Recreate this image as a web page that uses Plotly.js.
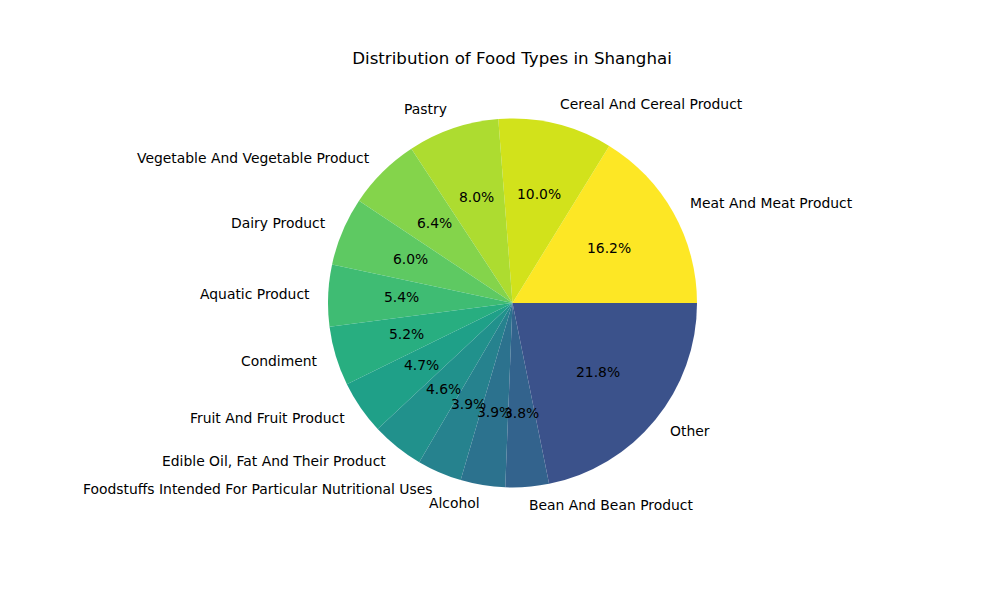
<!DOCTYPE html>
<html>
<head>
<meta charset="utf-8">
<script src="https://cdn.plot.ly/plotly-3.0.1.min.js"></script>
<style>html,body{margin:0;padding:0;background:#fff;}#chart{width:1000px;height:600px;}</style>
</head>
<body>
<div id="chart"></div>
<script>
const categories = [
  "Meat And Meat Product",
  "Cereal And Cereal Product",
  "Pastry",
  "Vegetable And Vegetable Product",
  "Dairy Product",
  "Aquatic Product",
  "Condiment",
  "Fruit And Fruit Product",
  "Edible Oil, Fat And Their Product",
  "Foodstuffs Intended For Particular Nutritional Uses",
  "Alcohol",
  "Bean And Bean Product",
  "Other"
];
const shares = [16.2, 10.0, 8.0, 6.4, 6.0, 5.4, 5.2, 4.7, 4.6, 3.9, 3.9, 3.8, 21.8];
const sliceColors = [
  "#fde725", "#d2e21b", "#addc30", "#84d44b", "#5ec962", "#3fbc73", "#28ae80",
  "#1fa088", "#21918c", "#26828e", "#2c728e", "#33638d", "#3b528b"
];
const chartTitle = "Distribution of Food Types in Shanghai";

const FONT = "DejaVu Sans, sans-serif";
const total = shares.reduce((a, b) => a + b, 0);

// Annotations positioned from the data (matplotlib-style: labels at 1.1 r, pct at 0.6 r)
const annotations = [];
let cum = 0;
shares.forEach((v, i) => {
  const mid = (cum + v / 2) / total * 2 * Math.PI;
  cum += v;
  const cx = Math.cos(mid), cy = Math.sin(mid);
  const side = cx > 1e-9 ? "left" : (cx < -1e-9 ? "right" : "center");
  annotations.push({
    xref: "paper", yref: "paper",
    x: 0.5 + 0.5 * 1.1 * cx, y: 0.5 + 0.5 * 1.1 * cy,
    text: categories[i], showarrow: false,
    xanchor: side, yanchor: "middle",
    xshift: side === "left" ? -2 : (side === "right" ? 2 : 0),
    yshift: 1,
    font: {family: FONT, size: 13.9, color: "#000"}
  });
  annotations.push({
    xref: "paper", yref: "paper",
    x: 0.5 + 0.5 * 0.6 * cx, y: 0.5 + 0.5 * 0.6 * cy,
    text: (v / total * 100).toFixed(1) + "%", showarrow: false,
    xanchor: "center", yanchor: "middle",
    yshift: 1,
    font: {family: FONT, size: 13.9, color: "#000"}
  });
});

// Plotly counterclockwise: first slice spans [rotation, rotation + its angle] measured clockwise from 12 o'clock.
// We want the first slice to start at 3 o'clock and go counterclockwise.
const rotation = 90 - shares[0] / total * 360;

const trace = {
  type: "pie",
  labels: categories,
  values: shares,
  sort: false,
  direction: "counterclockwise",
  rotation: rotation,
  marker: {colors: sliceColors, line: {width: 0}},
  textinfo: "none",
  hoverinfo: "label+percent",
  showlegend: false
};

const layout = {
  width: 1000, height: 600,
  margin: {l: 327.5, r: 302.5, t: 118, b: 112, pad: 0},
  paper_bgcolor: "#fff",
  plot_bgcolor: "#fff",
  showlegend: false,
  title: {
    text: chartTitle,
    x: 0.512, xref: "container", xanchor: "center",
    y: 1 - 58 / 600, yref: "container", yanchor: "middle",
    font: {family: FONT, size: 16.67, color: "#000"}
  },
  annotations: annotations
};

Plotly.newPlot("chart", [trace], layout, {displayModeBar: false, staticPlot: true});
</script>
</body>
</html>
